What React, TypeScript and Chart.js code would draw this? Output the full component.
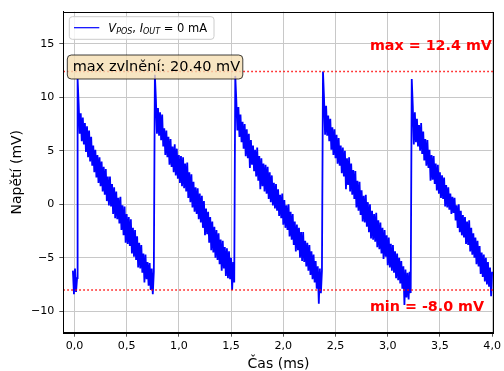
import React, { useEffect, useRef } from "react";
import { Chart, registerables } from "chart.js";

Chart.register(...registerables);

// ---- data (ms, mV) ----
const sampleStep = 0.01;

const preStart = -0.015;
const preValues = [-6.2, -8.4, -6.0, -8.2, -6.9];

const cycle1Start = 0.03;
const cycle1Values = [
  11.7, 9.4, 6.6, 8.5, 5.9, 8.1, 5.6, 7.6, 4.9, 7.3,
  4.4, 6.9, 4.0, 6.3, 3.6, 5.5, 3.0, 5.1, 2.5, 4.6,
  2.0, 4.4, 1.7, 4.0, 1.2, 3.5, 0.9, 3.3, 0.3, 2.6,
  -0.1, 2.6, -0.2, 1.9, -0.9, 1.6, -1.3, 1.2, -1.4, 0.6,
  -1.8, 0.7, -2.4, -0.1, -2.9, -0.2, -3.6, -0.9, -3.7, -1.2,
  -3.9, -1.4, -4.6, -2.2, -4.9, -2.4, -5.2, -3.0, -5.9, -3.6,
  -6.0, -3.8, -6.4, -4.6, -7.3, -4.7, -7.0, -5.4, -7.6, -5.5,
  -8.0, -6.0, -8.4, -6.3,
];

const cycle2Start = 0.77;
const cycle2Values = [
  12.1, 9.8, 6.6, 9.0, 6.4, 8.6, 6.0, 8.4, 5.4, 7.1,
  4.6, 6.9, 4.4, 6.3, 3.7, 6.1, 3.5, 5.4, 3.0, 5.6,
  2.7, 5.2, 2.4, 4.6, 2.0, 4.5, 1.7, 4.4, 1.5, 3.8,
  1.2, 3.9, 0.6, 3.0, 0.2, 2.8, -0.3, 2.1, -0.7, 1.6,
  -0.9, 1.5, -1.4, 1.0, -1.7, 0.8, -2.2, 0.3, -2.9, -0.4,
  -2.8, -0.7, -3.6, -1.2, -4.3, -1.6, -4.5, -2.1, -5.0, -2.4,
  -5.2, -2.7, -5.6, -3.3, -6.2, -3.4, -6.0, -4.0, -6.7, -4.1,
  -6.9, -4.4, -7.0, -5.0, -8.0, -5.4, -7.3,
];

const cycle3Start = 1.54;
const cycle3Values = [
  12.0, 9.7, 6.9, 9.1, 6.3, 8.4, 5.8, 7.7, 5.2, 7.5,
  4.5, 7.0, 4.3, 6.6, 3.4, 6.0, 3.7, 5.5, 3.1, 5.1,
  2.6, 5.3, 2.2, 4.5, 1.4, 4.3, 1.7, 3.8, 1.2, 3.7,
  1.0, 3.5, 0.5, 3.0, 0.2, 2.7, -0.1, 2.0, -0.4, 1.9,
  -0.6, 1.4, -1.1, 0.9, -1.3, 1.0, -1.9, 0.4, -2.2, -0.1,
  -2.4, 0.0, -3.0, -0.7, -3.3, -0.9, -3.8, -1.6, -4.4, -1.9,
  -4.3, -2.2, -5.0, -2.6, -5.3, -2.6, -5.4, -3.4, -5.8, -3.6,
  -6.2, -3.8, -6.6, -4.4, -7.0, -4.7, -7.3, -5.3, -7.9, -5.8,
  -9.3, -6.0, -8.3, -6.2,
];

const cycle4Start = 2.38;
const cycle4Values = [
  12.4, 9.9, 6.5, 9.2, 6.4, 8.3, 5.9, 8.0, 5.1, 7.2,
  4.6, 7.0, 4.3, 6.5, 3.8, 6.2, 3.6, 5.5, 2.9, 5.3,
  2.6, 5.0, 1.4, 4.3, 1.8, 4.4, 1.2, 3.8, 0.9, 3.2,
  0.5, 3.1, -0.3, 2.2, -0.6, 2.1, -1.0, 1.3, -1.6, 0.8,
  -1.7, 0.9, -2.1, 0.2, -2.6, 0.0, -3.2, -0.6, -3.3, -0.9,
  -3.5, -0.8, -4.0, -1.5, -4.2, -1.7, -4.6, -2.2, -5.1, -2.4,
  -4.9, -2.9, -5.7, -3.1, -5.9, -3.7, -6.2, -3.8, -6.4, -4.4,
  -6.9, -4.6, -7.1, -5.0, -7.4, -5.3, -7.9, -5.8, -9.4, -6.1,
  -8.7, -6.4, -8.9, -6.3, -8.3,
];

const cycle5Start = 3.23;
const cycle5Values = [
  11.7, 9.2, 5.6, 8.6, 5.8, 8.0, 5.4, 7.4, 5.0, 7.6,
  4.7, 6.8, 4.1, 6.1, 3.6, 6.0, 3.4, 5.1, 2.2, 4.6,
  2.3, 4.5, 1.9, 3.8, 1.3, 3.7, 1.0, 3.0, 0.6, 2.7,
  0.5, 2.5, -0.2, 1.8, -0.3, 1.6, -0.5, 1.0, -0.9, 0.7,
  -0.8, 0.6, -1.5, -0.1, -2.2, 0.0, -2.6, -0.6, -2.9, -1.0,
  -3.1, -1.2, -3.7, -1.6, -3.8, -1.5, -4.4, -2.2, -4.7, -2.7,
  -5.0, -3.1, -5.6, -3.4, -5.8, -3.9, -6.5, -4.5, -6.8, -4.7,
  -7.2, -5.0, -7.5, -5.4, -7.7, -5.9, -8.6, -6.3,
];

const maxVoltage = 12.4;
const minVoltage = -8.0;
const maxRipple = 20.4;

const xMin = -0.107;
const xMax = 4.016;
const yMin = -12;
const yMax = 18;
const xTicks = [0, 0.5, 1, 1.5, 2, 2.5, 3, 3.5, 4];
const yTicks = [-10, -5, 0, 5, 10, 15];

const xLabel = "Čas (ms)";
const yLabel = "Napětí (mV)";
const maxLabelX = 2.83;
const maxLabelY = 14.8;
const minLabelY = -9.6;

const segments = [
  { start: preStart, values: preValues },
  { start: cycle1Start, values: cycle1Values },
  { start: cycle2Start, values: cycle2Values },
  { start: cycle3Start, values: cycle3Values },
  { start: cycle4Start, values: cycle4Values },
  { start: cycle5Start, values: cycle5Values },
];

const FONT = "'DejaVu Sans', sans-serif";

function roundRect(ctx: CanvasRenderingContext2D, x: number, y: number, w: number, h: number, r: number) {
  ctx.beginPath();
  ctx.moveTo(x + r, y);
  ctx.lineTo(x + w - r, y);
  ctx.arcTo(x + w, y, x + w, y + r, r);
  ctx.lineTo(x + w, y + h - r);
  ctx.arcTo(x + w, y + h, x + w - r, y + h, r);
  ctx.lineTo(x + r, y + h);
  ctx.arcTo(x, y + h, x, y + h - r, r);
  ctx.lineTo(x, y + r);
  ctx.arcTo(x, y, x + r, y, r);
  ctx.closePath();
}

const overlayPlugin = {
  id: "overlay",
  afterDatasetsDraw(chart: any) {
    const { ctx, chartArea, scales } = chart;
    const a = chartArea;
    ctx.save();

    // frame (all four spines)
    ctx.strokeStyle = "#000";
    ctx.lineWidth = 1;
    ctx.strokeRect(Math.round(a.left) + 0.5, Math.round(a.top) + 0.5, Math.round(a.right - a.left) - 1, Math.round(a.bottom - a.top));

    // legend
    const lx = a.left + 6, ly = a.top + 5, lw = 144.7, lh = 22.6;
    roundRect(ctx, lx, ly, lw, lh, 3);
    ctx.fillStyle = "rgba(255,255,255,0.8)";
    ctx.fill();
    ctx.strokeStyle = "#cccccc";
    ctx.lineWidth = 1;
    ctx.stroke();
    const lineY = ly + 11;
    ctx.strokeStyle = "#0000ff";
    ctx.lineWidth = 1.2;
    ctx.beginPath();
    ctx.moveTo(lx + 4.7, lineY);
    ctx.lineTo(lx + 30, lineY);
    ctx.stroke();
    ctx.fillStyle = "#000";
    ctx.textBaseline = "alphabetic";
    ctx.textAlign = "left";
    let tx = lx + 39;
    const base = lineY + 4.2;
    const put = (s: string, font: string, dy: number) => {
      ctx.font = font;
      ctx.fillText(s, tx, base + dy);
      tx += ctx.measureText(s).width;
    };
    put("V", `italic 11.5px ${FONT}`, 0);
    put("POS", `italic 8px ${FONT}`, 2.5);
    put(", ", `11.5px ${FONT}`, 0);
    put("I", `italic 11.5px ${FONT}`, 0);
    put("OUT", `italic 8px ${FONT}`, 2.5);
    put(" = 0 mA", `11.5px ${FONT}`, 0);

    // ripple annotation box
    const bx = a.left + 4, by = a.top + 43.3, bw = 175.5, bh = 24;
    roundRect(ctx, bx, by, bw, bh, 4);
    ctx.fillStyle = "rgba(245,222,179,0.8)";
    ctx.fill();
    ctx.strokeStyle = "rgba(0,0,0,0.75)";
    ctx.lineWidth = 1;
    ctx.stroke();
    ctx.fillStyle = "#000";
    ctx.font = `14.5px ${FONT}`;
    ctx.textBaseline = "middle";
    ctx.fillText(`max zvlnění: ${maxRipple.toFixed(2)} mV`, bx + 5.4, by + bh / 2 + 0.5);

    // max / min labels
    ctx.fillStyle = "#ff0000";
    ctx.font = `bold 14.3px ${FONT}`;
    ctx.textBaseline = "middle";
    const px = scales.x.getPixelForValue(maxLabelX);
    ctx.fillText(`max = ${maxVoltage.toFixed(1)} mV`, px, scales.y.getPixelForValue(maxLabelY));
    ctx.fillText(`min = ${minVoltage.toFixed(1)} mV`, px, scales.y.getPixelForValue(minLabelY));

    ctx.restore();
  },
};

export default function App() {
  const ref = useRef<HTMLCanvasElement | null>(null);

  useEffect(() => {
    if (!ref.current) return;
    const points = segments.flatMap((seg) =>
      seg.values.map((v, k) => ({ x: seg.start + k * sampleStep, y: v }))
    );
    const tickFont = { family: FONT, size: 11.1 };
    const chart = new Chart(ref.current, {
      type: "scatter",
      data: {
        datasets: [
          {
            label: "V_POS, I_OUT = 0 mA",
            data: points,
            showLine: true,
            borderColor: "#0000ff",
            borderWidth: 1.8,
            borderJoinStyle: "miter",
            pointRadius: 0,
            tension: 0,
            order: 2,
          },
          {
            label: "max",
            data: [{ x: xMin, y: maxVoltage }, { x: xMax, y: maxVoltage }],
            showLine: true,
            borderColor: "#ff0000",
            borderWidth: 1.5,
            borderDash: [1.5, 2.5],
            pointRadius: 0,
            order: 1,
          },
          {
            label: "min",
            data: [{ x: xMin, y: minVoltage }, { x: xMax, y: minVoltage }],
            showLine: true,
            borderColor: "#ff0000",
            borderWidth: 1.5,
            borderDash: [1.5, 2.5],
            pointRadius: 0,
            order: 1,
          },
        ],
      },
      options: {
        responsive: false,
        animation: false,
        events: [],
        layout: { padding: { top: 11.7, right: 9, left: 0, bottom: 0 } },
        plugins: { legend: { display: false }, tooltip: { enabled: false } },
        scales: {
          x: {
            type: "linear",
            min: xMin,
            max: xMax,
            afterBuildTicks: (s: any) => {
              s.ticks = xTicks.map((v) => ({ value: v }));
            },
            afterFit: (s: any) => {
              s.height = 38.3;
            },
            ticks: {
              font: tickFont,
              color: "#000",
              padding: 3,
              maxRotation: 0,
              autoSkip: false,
              callback: (v: any) => Number(v).toFixed(1).replace(".", ","),
            },
            grid: { color: "#c8c8c8", lineWidth: 1, drawTicks: true, tickLength: 4, tickColor: "#555" },
            border: { display: true, color: "#000", width: 1 },
            title: {
              display: true,
              text: xLabel,
              color: "#000",
              font: { family: FONT, size: 14, lineHeight: 1 },
              padding: { top: 0, bottom: 0 },
            },
          },
          y: {
            type: "linear",
            min: yMin,
            max: yMax,
            afterBuildTicks: (s: any) => {
              s.ticks = yTicks.map((v) => ({ value: v }));
            },
            afterFit: (s: any) => {
              s.width = 63.3;
            },
            ticks: {
              font: tickFont,
              color: "#000",
              padding: 5,
              autoSkip: false,
              callback: (v: any) => (Number(v) < 0 ? "\u2212" + Math.abs(Number(v)) : String(v)),
            },
            grid: { color: "#c8c8c8", lineWidth: 1, drawTicks: true, tickLength: 4, tickColor: "#555" },
            border: { display: true, color: "#000", width: 1 },
            title: {
              display: true,
              text: yLabel,
              color: "#000",
              font: { family: FONT, size: 14, lineHeight: 1 },
              padding: { top: 10.5, bottom: 0 },
            },
          },
        },
      },
      plugins: [overlayPlugin],
    });
    return () => chart.destroy();
  }, []);

  return (
    <div style={{ position: "fixed", left: 0, top: 0, width: 504, height: 371, background: "#fff" }}>
      <canvas ref={ref} width={504} height={371} style={{ display: "block", width: 504, height: 371 }} />
    </div>
  );
}
